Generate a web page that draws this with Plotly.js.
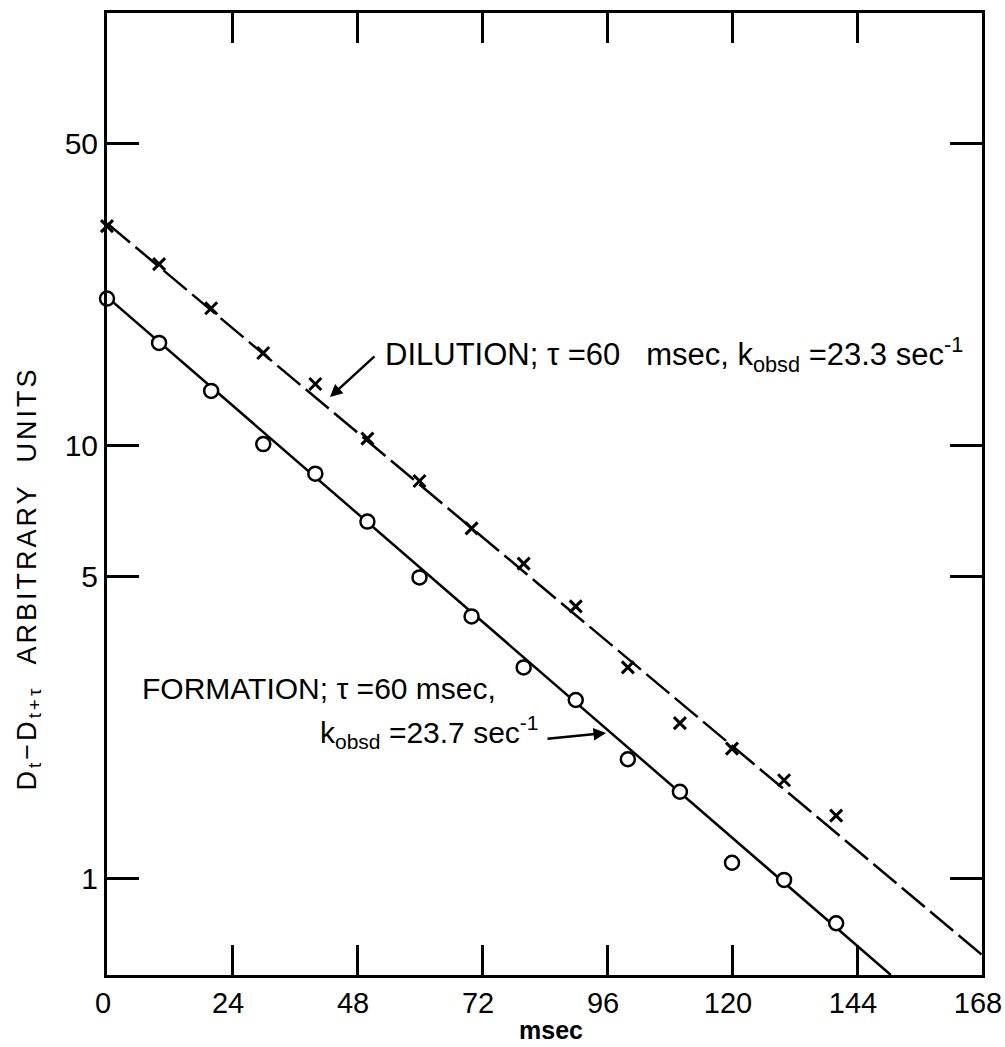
<!DOCTYPE html>
<html>
<head>
<meta charset="utf-8">
<script src="https://cdn.plot.ly/plotly-3.0.1.min.js"></script>
<style>
  html, body { margin: 0; padding: 0; background: #fff; }
  #chart { width: 1005px; height: 1047px; }
</style>
</head>
<body>
<div id="chart"></div>
<script>
// ---- data ----
const timeMs = [0, 10, 20, 30, 40, 50, 60, 70, 80, 90, 100, 110, 120, 130, 140];
const dilution = [32.2, 26.3, 20.8, 16.4, 13.9, 10.4, 8.3, 6.45, 5.35, 4.26, 3.08, 2.29, 2.00, 1.69, 1.40];
const formation = [21.9, 17.3, 13.4, 10.1, 8.63, 6.69, 4.97, 4.04, 3.08, 2.59, 1.89, 1.59, 1.09, 0.995, 0.79];
// fitted lines (end points)
const dilutionFitT = [0, 168];
const dilutionFitV = [32.7, 0.668];
const formationFitT = [0, 150.5];
const formationFitV = [22.1, 0.60];
// tick labels
const xTicks = [0, 24, 48, 72, 96, 120, 144, 168];
const yTicks = [1, 5, 10, 50];
const yTickText = ['1', '5', '10', '50'];

const FONT = '"Liberation Sans", Arial, sans-serif';

const traces = [
  { x: dilutionFitT, y: dilutionFitV, mode: 'lines', type: 'scatter',
    line: { color: '#000', width: 2.5, dash: '30px,7px' }, hoverinfo: 'skip' },
  { x: formationFitT, y: formationFitV, mode: 'lines', type: 'scatter',
    line: { color: '#000', width: 2.5 }, hoverinfo: 'skip' },
  { x: timeMs, y: dilution, mode: 'markers', type: 'scatter', cliponaxis: false,
    marker: { symbol: 'x-thin', size: 12, color: '#000', line: { color: '#000', width: 3 } } },
  { x: timeMs, y: formation, mode: 'markers', type: 'scatter', cliponaxis: false,
    marker: { symbol: 'circle', size: 14, color: '#fff', line: { color: '#000', width: 2.5 } } }
];

const layout = {
  width: 1005, height: 1047,
  paper_bgcolor: '#fff', plot_bgcolor: '#fff',
  margin: { l: 107, r: 23, t: 13, b: 72 },
  showlegend: false,
  font: { family: FONT, color: '#000' },
  xaxis: {
    range: [0, 168], tickvals: xTicks, ticktext: xTicks.map(String),
    ticks: 'inside', ticklen: 30, tickwidth: 3, tickcolor: '#000',
    showline: true, linewidth: 3, linecolor: '#000', mirror: 'ticks',
    showgrid: false, zeroline: false, ticklabeloverflow: 'allow', ticklabelshift: -4,
    tickfont: { size: 29, family: FONT, color: '#000' }
  },
  yaxis: {
    type: 'log', range: [Math.log10(0.6), 2], tickvals: yTicks, ticktext: yTickText,
    ticks: 'inside', ticklen: 32, tickwidth: 3, tickcolor: '#000',
    showline: true, linewidth: 3, linecolor: '#000', mirror: 'ticks',
    showgrid: false, zeroline: false,
    tickfont: { size: 30, family: FONT, color: '#000' }
  },
  annotations: [
    { text: 'D<sub>t</sub>\u2212D<sub>t+\u03c4</sub>&nbsp;&nbsp;ARBITRARY&nbsp;&nbsp;UNITS',
      xref: 'paper', yref: 'paper', x: -0.09, y: 0.412, textangle: -90,
      showarrow: false, font: { size: 27, family: FONT, color: '#000' },
      xanchor: 'center', yanchor: 'middle' },
    { text: 'msec', xref: 'paper', yref: 'paper', x: 0.507, y: -0.057,
      showarrow: false, font: { size: 25, family: FONT, color: '#000', weight: 'bold' },
      xanchor: 'center', yanchor: 'middle' },
    { text: 'DILUTION; \u03c4 =60&nbsp;&nbsp;&nbsp;msec, k<sub>obsd</sub> =23.3 sec<sup>-1</sup>',
      xref: 'paper', yref: 'paper', x: (383 - 107) / 875, y: (975 - 355) / 962,
      showarrow: false, font: { size: 31, family: FONT, color: '#000' },
      xanchor: 'left', yanchor: 'middle' },
    { text: 'FORMATION; \u03c4 =60 msec,',
      xref: 'paper', yref: 'paper', x: (140 - 107) / 875, y: (975 - 688) / 962,
      showarrow: false, font: { size: 30, family: FONT, color: '#000' },
      xanchor: 'left', yanchor: 'middle' },
    { text: 'k<sub>obsd</sub> =23.7 sec<sup>-1</sup>',
      xref: 'paper', yref: 'paper', x: (318 - 107) / 875, y: (975 - 732) / 962,
      showarrow: false, font: { size: 30, family: FONT, color: '#000' },
      xanchor: 'left', yanchor: 'middle' },
    { text: '', xref: 'paper', yref: 'paper', x: (330 - 107) / 875, y: (975 - 397) / 962,
      showarrow: true, ax: 46, ay: -42, arrowhead: 2, arrowsize: 1, arrowwidth: 2.5,
      arrowcolor: '#000', standoff: 0 },
    { text: '', xref: 'paper', yref: 'paper', x: (606 - 107) / 875, y: (975 - 733) / 962,
      showarrow: true, ax: -60, ay: 6, arrowhead: 2, arrowsize: 1, arrowwidth: 2.5,
      arrowcolor: '#000', standoff: 0 }
  ]
};

Plotly.newPlot('chart', traces, layout, { staticPlot: true }).then(function () {
  const g = document.querySelector('.annotation[data-index="0"] text');
  if (g) g.style.letterSpacing = '3px';
});
</script>
</body>
</html>
